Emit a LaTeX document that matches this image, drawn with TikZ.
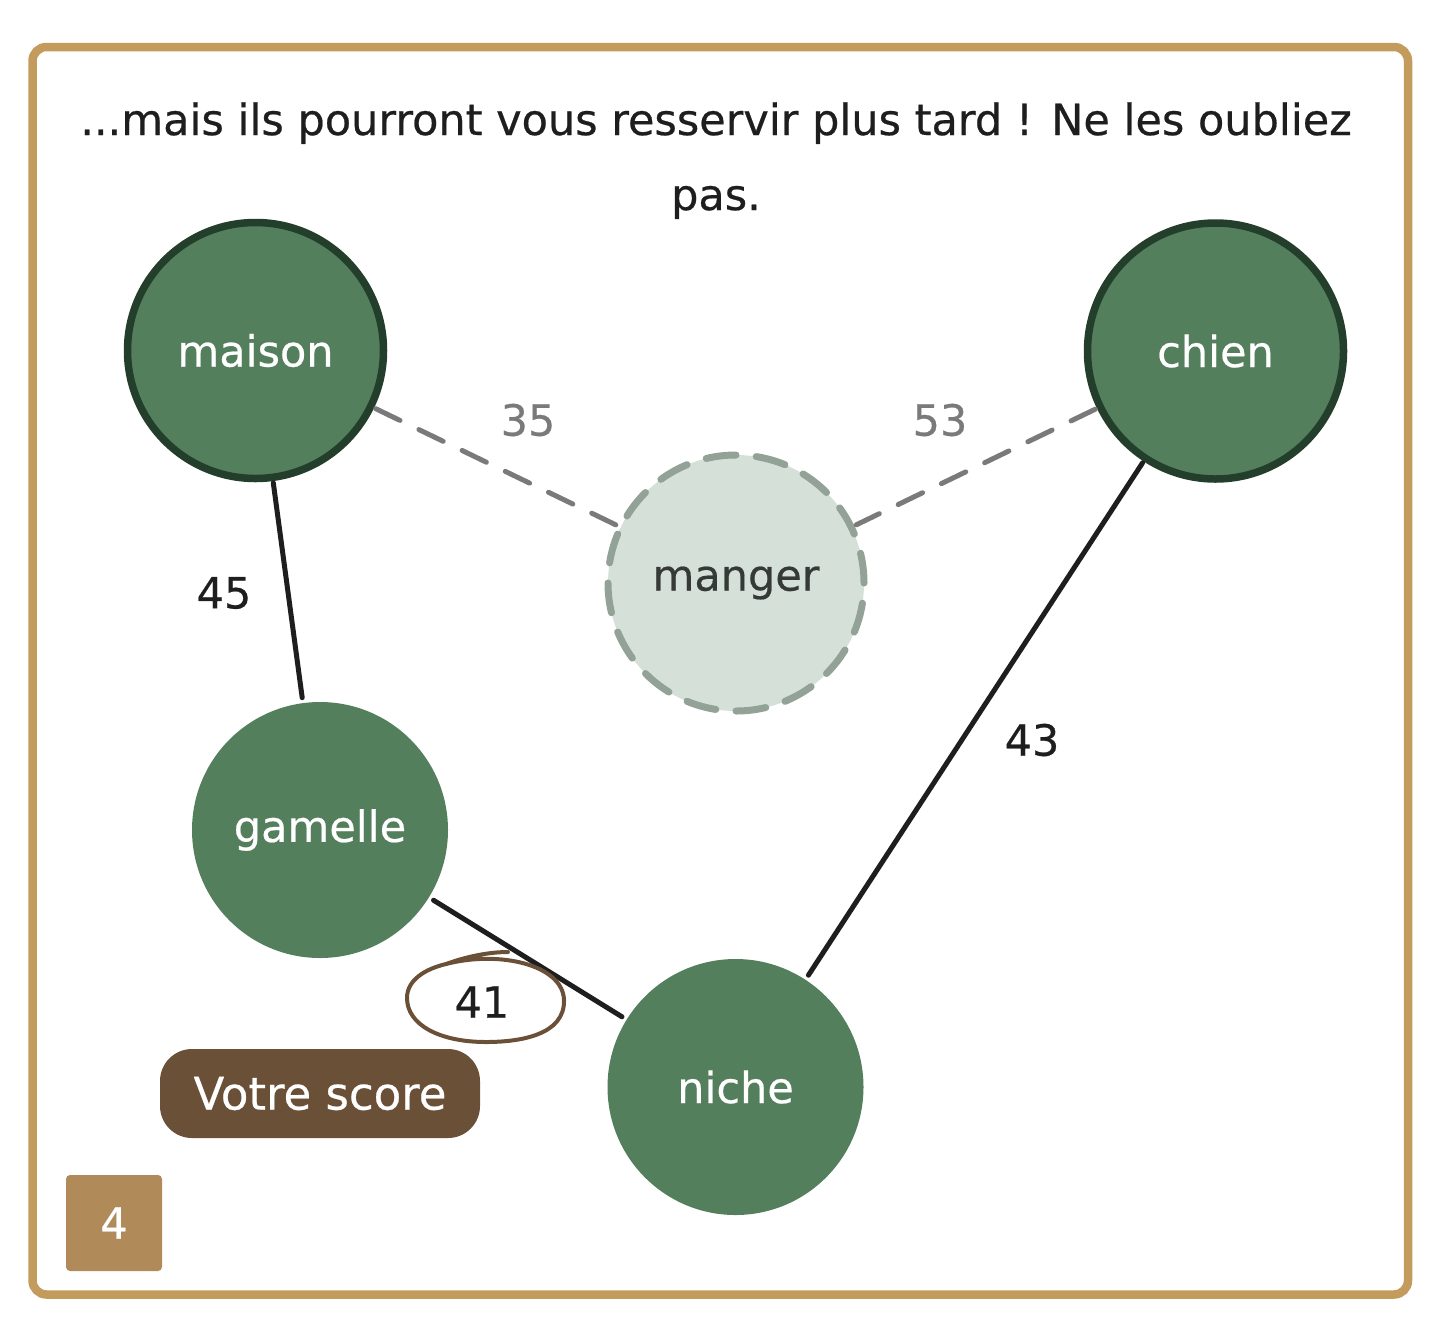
\documentclass[tikz,border=0pt]{standalone}
\usepackage{fontspec}
\setmainfont{DejaVu Sans}[FakeBold=0.5]
\definecolor{framec}{HTML}{C39B5D}
\definecolor{nodegreen}{HTML}{547F5D}
\definecolor{nodedark}{HTML}{233F2C}
\definecolor{mangerfill}{HTML}{D5E0D8}
\definecolor{mangerdash}{HTML}{93A296}
\definecolor{mangertext}{HTML}{363A36}
\definecolor{dashgray}{HTML}{7A7A7A}
\definecolor{inkc}{HTML}{1E1E1E}
\definecolor{scorec}{HTML}{6B5038}
\definecolor{numc}{HTML}{B08A58}
\begin{document}
\begin{tikzpicture}[x=1pt,y=-1pt,
  txt/.style={font=\fontsize{43}{75}\selectfont},
  wnode/.style={circle, minimum size=256pt, inner sep=0pt, fill=nodegreen,
    text=white, txt, outer sep=5.5pt},
  bordered/.style={draw=nodedark, line width=7.5pt},
  ghost/.style={circle, minimum size=256pt, inner sep=0pt, fill=mangerfill,
    draw=mangerdash, line width=7pt, dash pattern=on 30pt off 20.27pt,
    line cap=round, text=mangertext, txt, outer sep=5.5pt},
  solidedge/.style={draw=inkc, line width=5pt, line cap=round},
  dashedge/.style={draw=dashgray, line width=5pt, line cap=round,
    dash pattern=on 27pt off 21pt},
  elabel/.style={txt, text=inkc, inner sep=0pt},
  glabel/.style={txt, text=dashgray, inner sep=0pt}]
\useasboundingbox (0,0) rectangle (1439,1342);
\draw[draw=framec, line width=8.5pt, rounded corners=14pt] (32.5,47) rectangle (1408,1294.5);

\node[txt, text=inkc, align=center, anchor=base, inner sep=0pt] (title) at (716,210)
  {...mais ils pourront vous resservir plus tard ! Ne les oubliez\\pas.};

\node[wnode, bordered] (maison) at (255.5,350.5) {maison};
\node[wnode, bordered] (chien) at (1215.5,351) {chien};
\node[ghost] (manger) at (736,583) {manger};
\node[wnode] (gamelle) at (320,830) {gamelle};
\node[wnode] (niche) at (735.5,1087) {niche};

\draw[dashedge] (maison) -- (manger);
\draw[dashedge] (chien) -- (manger);
\draw[solidedge] (maison) -- (gamelle);
\draw[solidedge] (chien) -- (niche);
\draw[solidedge] (gamelle) -- (niche);

\node[glabel] (l35) at (528,420) {35};
\node[glabel] (l53) at (940,420) {53};
\node[elabel] (l45) at (224,593) {45};
\node[elabel] (l43) at (1032,740) {43};
\node[elabel] (l41) at (482,1002) {41};

\draw[draw=scorec, line width=4pt, line cap=round, line join=round]
  (446,964) .. controls (500,950) and (563,965) .. (564,1000)
  .. controls (565,1035) and (520,1042) .. (486,1042)
  .. controls (440,1042) and (407,1025) .. (407,998)
  .. controls (407,980) and (425,969) .. (446,964)
  .. controls (468,956) and (490,952) .. (508,952);

\node[fill=scorec, rounded corners=32pt, minimum width=320pt, minimum height=89pt,
  inner sep=0pt, text=white, font=\fontsize{45}{54}\selectfont] (score) at (320,1093.5) {Votre score};
\node[fill=numc, rounded corners=4pt, minimum size=96pt, inner sep=0pt,
  text=white, txt] (num) at (114,1223) {4};
\end{tikzpicture}
\end{document}
